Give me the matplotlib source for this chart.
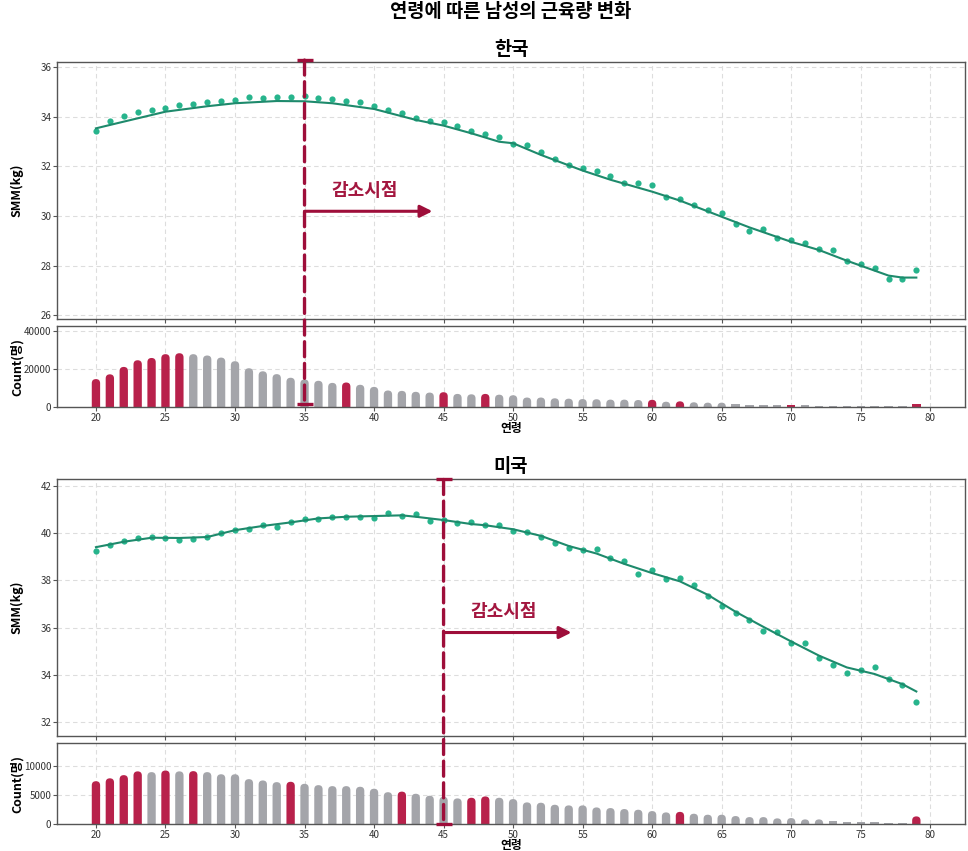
import matplotlib
matplotlib.use('Agg')
import matplotlib.pyplot as plt
from matplotlib.patches import FancyBboxPatch, Rectangle, ConnectionPatch

plt.rcParams['font.family'] = ['Noto Sans CJK KR', 'DejaVu Sans']

# ---- data ----
ages = list(range(20, 80))

kr_smm = [33.41, 33.84, 34.04, 34.17, 34.27, 34.34, 34.47, 34.50, 34.58, 34.63,
          34.66, 34.79, 34.74, 34.81, 34.79, 34.82, 34.74, 34.71, 34.63, 34.58,
          34.44, 34.27, 34.15, 33.95, 33.83, 33.77, 33.61, 33.42, 33.32, 33.18,
          32.90, 32.86, 32.56, 32.31, 32.07, 31.92, 31.81, 31.60, 31.32, 31.32,
          31.25, 30.77, 30.68, 30.43, 30.26, 30.12, 29.66, 29.41, 29.48, 29.11,
          29.05, 28.90, 28.66, 28.63, 28.19, 28.05, 27.91, 27.46, 27.46, 27.81]
kr_fit_ages = [20, 22, 25, 28, 30, 33, 35, 37, 40, 43, 45, 47, 49, 50, 52, 55, 57,
               60, 62, 65, 67, 70, 72, 74, 76, 77, 78, 79]
kr_fit = [33.53, 33.80, 34.20, 34.42, 34.54, 34.63, 34.62, 34.54, 34.31, 33.87,
          33.64, 33.33, 32.99, 32.93, 32.46, 31.83, 31.46, 30.98, 30.62, 29.97,
          29.54, 28.96, 28.63, 28.20, 27.80, 27.60, 27.52, 27.52]
kr_count = [14700, 17200, 21100, 24600, 25800, 27800, 28300, 27800, 27100, 26000,
            24100, 20400, 18800, 17300, 15400, 14500, 13800, 12700, 12900, 11700,
            10600, 8700, 8500, 8000, 7600, 7800, 6900, 6700, 6900, 6500,
            6200, 5000, 5000, 4600, 4400, 4200, 4100, 3900, 3900, 3700,
            3800, 2800, 3000, 2500, 2300, 2300, 1800, 1200, 1200, 1200,
            1300, 1200, 700, 700, 700, 700, 700, 700, 300, 1800]
kr_red_ages = [20, 21, 22, 23, 24, 25, 26, 38, 45, 48, 60, 62, 70, 79]
kr_turn = 35

us_smm = [39.23, 39.50, 39.69, 39.80, 39.86, 39.81, 39.73, 39.74, 39.84, 40.00,
          40.14, 40.16, 40.33, 40.26, 40.46, 40.59, 40.60, 40.70, 40.69, 40.70,
          40.64, 40.86, 40.73, 40.80, 40.51, 40.56, 40.43, 40.46, 40.37, 40.37,
          40.09, 40.06, 39.86, 39.59, 39.37, 39.27, 39.34, 38.93, 38.81, 38.27,
          38.43, 38.07, 38.10, 37.79, 37.33, 36.93, 36.60, 36.34, 35.87, 35.81,
          35.36, 35.33, 34.71, 34.41, 34.06, 34.20, 34.34, 33.80, 33.56, 32.84]
us_fit_ages = [20, 22, 24, 26, 28, 30, 32, 34, 36, 38, 40, 42, 43, 45, 47, 48, 50,
               52, 54, 56, 58, 60, 62, 64, 66, 68, 70, 72, 74, 76, 78, 79]
us_fit = [39.41, 39.64, 39.81, 39.80, 39.84, 40.13, 40.31, 40.46, 40.63, 40.70,
          40.73, 40.76, 40.70, 40.56, 40.39, 40.34, 40.17, 39.89, 39.46, 39.14,
          38.70, 38.31, 37.96, 37.39, 36.67, 36.03, 35.41, 34.81, 34.31, 34.03,
          33.60, 33.29]
us_count = [7400, 7900, 8450, 9100, 8970, 9250, 9100, 9140, 8970, 8600,
            8600, 7760, 7530, 7240, 7300, 6950, 6720, 6550, 6550, 6440,
            6100, 5500, 5600, 5230, 4890, 4710, 4430, 4540, 4770, 4540,
            4310, 3740, 3680, 3330, 3220, 3220, 2870, 2760, 2590, 2470,
            2240, 2010, 2100, 1780, 1610, 1610, 1380, 1200, 1200, 980,
            1030, 800, 800, 570, 400, 400, 400, 230, 230, 1320]
us_red_ages = [20, 21, 22, 23, 25, 27, 34, 42, 47, 48, 62, 79]
us_turn = 45

RED = '#B8214B'
GREY = '#A4A5AA'
DARKRED = '#9E0E3A'
TEAL_DOT = '#27B48C'
TEAL_LINE = '#1E8A6C'
SPINE = '#555555'


def style_axes(ax):
    for sp in ax.spines.values():
        sp.set_color(SPINE)
        sp.set_linewidth(1.0)
    ax.grid(True, color='#dddddd', linestyle=(0, (4, 3)), linewidth=0.8)
    ax.set_axisbelow(True)
    ax.tick_params(labelsize=7, colors='#333333', length=3, color=SPINE, pad=1)
    ax.set_xlim(17.2, 82.5)
    ax.set_xticks(range(20, 81, 5))


def rounded_bars(ax, x, h, colors, width=0.6):
    bbox = ax.get_position()
    fw, fh = ax.figure.get_size_inches() * ax.figure.dpi
    x0, x1 = ax.get_xlim()
    y0, y1 = ax.get_ylim()
    aspect = ((y1 - y0) / (bbox.height * fh)) / ((x1 - x0) / (bbox.width * fw))
    r = width / 2
    ry = r * aspect
    for xi, hi, c in zip(x, h, colors):
        if hi >= ry:
            p = FancyBboxPatch((xi - r, -ry), width, hi + ry,
                               boxstyle='round,pad=0,rounding_size=%f' % r,
                               mutation_aspect=aspect, fc=c, ec='none', zorder=2)
        else:
            p = Rectangle((xi - r, 0), width, hi, fc=c, ec='none', zorder=2)
        ax.add_patch(p)


def draw_country(fig, rect_main, rect_bar, title, smm, fit_ages, fit, count,
                 red_ages, turn, ylim, yticks, clim, cticks, arrow_y, arrow_end,
                 text_xy, line_top, line_bottom):
    ax = fig.add_axes(rect_main)
    axb = fig.add_axes(rect_bar)
    style_axes(ax)
    style_axes(axb)

    ax.scatter(ages, smm, s=20, color=TEAL_DOT, zorder=3, linewidths=0)
    ax.plot(fit_ages, fit, color=TEAL_LINE, lw=1.5, zorder=3)
    ax.set_ylim(*ylim)
    ax.set_yticks(yticks)
    ax.tick_params(axis='x', labelbottom=False)
    ax.set_ylabel('SMM(kg)', fontsize=9, fontweight='bold')
    ax.yaxis.set_label_coords(-0.037, 0.5)
    ax.set_title(title, fontsize=13.5, fontweight='bold', pad=5)

    axb.set_ylim(*clim)
    axb.set_yticks(cticks)
    colors = [RED if a in red_ages else GREY for a in ages]
    rounded_bars(axb, ages, count, colors)
    axb.set_ylabel('Count(명)', fontsize=9, fontweight='bold')
    axb.yaxis.set_label_coords(-0.037, 0.5)
    axb.set_xlabel('연령', fontsize=8.5, fontweight='bold')
    axb.xaxis.set_label_coords(0.5, -0.19)

    # turning point line across both panels
    con = ConnectionPatch(xyA=(turn, line_top), coordsA=ax.transData,
                          xyB=(turn, line_bottom), coordsB=axb.transData,
                          color=DARKRED, lw=2.4, linestyle=(0, (4.5, 2)), zorder=5)
    fig.add_artist(con)
    ax.plot([turn], [line_top], marker='_', ms=11, mew=2.4, color=DARKRED,
            clip_on=False, zorder=6)
    axb.plot([turn], [line_bottom], marker='_', ms=11, mew=2.4, color=DARKRED,
             clip_on=False, zorder=6)

    ax.annotate('', xy=(arrow_end, arrow_y), xytext=(turn, arrow_y),
                arrowprops=dict(arrowstyle='-|>', color=DARKRED, lw=2.2,
                                mutation_scale=18, shrinkA=0, shrinkB=0),
                zorder=6)
    ax.text(text_xy[0], text_xy[1], '감소시점', color='#A3163F', fontsize=13,
            fontweight='bold', ha='center', va='center', zorder=6)


def main():
    fig = plt.figure(figsize=(9.68, 8.51), dpi=100)
    fig.text(0.527, 0.986, '연령에 따른 남성의 근육량 변화', ha='center', va='center',
             fontsize=13.5, fontweight='bold')

    draw_country(fig, [0.0589, 0.6251, 0.938, 0.302], [0.0589, 0.5217, 0.938, 0.0952],
                 '한국', kr_smm, kr_fit_ages, kr_fit, kr_count, kr_red_ages, kr_turn,
                 (25.85, 36.2), [26, 28, 30, 32, 34, 36], (0, 42600), [0, 20000, 40000],
                 30.19, 44.2, (39.3, 31.04), 36.28, 1500)

    draw_country(fig, [0.0589, 0.1351, 0.938, 0.302], [0.0589, 0.0317, 0.938, 0.0952],
                 '미국', us_smm, us_fit_ages, us_fit, us_count, us_red_ages, us_turn,
                 (31.4, 42.3), [32, 34, 36, 38, 40, 42], (0, 14000), [0, 5000, 10000],
                 35.79, 54.2, (49.3, 36.68), 42.28, 0)

    fig.savefig('out.png', dpi=100)
    plt.close(fig)


if __name__ == '__main__':
    main()
